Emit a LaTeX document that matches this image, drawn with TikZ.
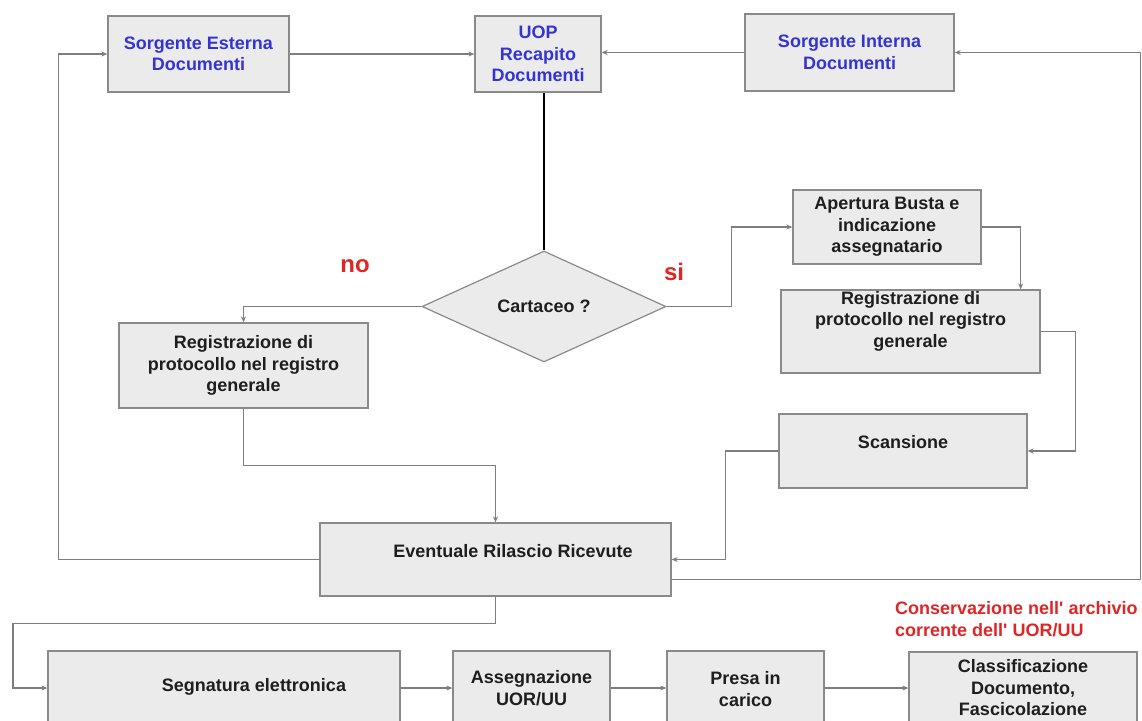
\documentclass[tikz,border=0pt]{standalone}
\usepackage{fontspec}
\setmainfont{Liberation Sans}
\newfontfamily\plainfont{Liberation Sans}
\usetikzlibrary{shapes.geometric,arrows.meta}
\definecolor{boxgray}{HTML}{EBEBEB}
\definecolor{bordergray}{HTML}{8A8A8A}
\definecolor{linegray}{HTML}{7E7E7E}
\definecolor{txtc}{HTML}{1E1E1E}
\definecolor{bluet}{RGB}{52,52,212}
\definecolor{redt}{RGB}{222,38,38}
\begin{document}
\begin{tikzpicture}[x=1pt,y=-1pt,
  fnt/.style={font=\bfseries\fontsize{18}{21.5}\selectfont},
  box/.style={draw=bordergray,fill=boxgray,line width=1.3pt,inner sep=0pt,align=center,fnt,text=txtc},
  bbox/.style={box,text=bluet},
  lbl/.style={inner sep=0pt,align=center,fnt,text=txtc},
  redlbl/.style={inner sep=0pt,text=redt,font=\bfseries\fontsize{24}{26}\selectfont},
  conn/.style={draw=linegray,line width=1.2pt},
  arr/.style={conn,-{Stealth[length=6pt,width=5pt]}},
]
\useasboundingbox (0,0) rectangle (1142,720);
\clip (0,0) rectangle (1142,720);

% top row
\node[bbox,minimum width=181pt,minimum height=76pt] (se) at (198.5,54) {Sorgente Esterna\\Documenti};
\node[bbox,minimum width=126pt,minimum height=76pt] (uop) at (538,54) {UOP\\Recapito\\Documenti};
\node[bbox,minimum width=209pt,minimum height=77pt] (si) at (849.5,52.5) {Sorgente Interna\\Documenti};

% decision
\node[diamond,draw=bordergray,fill=boxgray,line width=1.2pt,inner sep=0pt,
      minimum width=244pt,minimum height=111pt,fnt,text=txtc] (dia) at (544,306.5) {Cartaceo ?};
\node[redlbl] (no) at (355,266) {no};
\node[redlbl] (sitxt) at (674,272) {si};

% left branch
\node[box,minimum width=249pt,minimum height=85pt] (regl) at (243.5,365.5) {Registrazione di\\protocollo nel registro\\generale};

% right branch
\node[box,minimum width=188pt,minimum height=74pt] (ap) at (887,227) {Apertura Busta e\\indicazione\\assegnatario};
\node[box,minimum width=259pt,minimum height=83pt] (regr) at (910.5,331.5) {};
\node[lbl] (regrt) at (910.5,321) {Registrazione di\\protocollo nel registro\\generale};
\node[box,minimum width=248pt,minimum height=74pt] (sc) at (903,451) {};
\node[lbl] (sct) at (903,442) {Scansione};

% receipt
\node[box,minimum width=351pt,minimum height=73pt] (ev) at (495.5,559.5) {};
\node[lbl] (evt) at (513,551) {Eventuale Rilascio Ricevute};

% bottom row
\node[box,minimum width=352pt,minimum height=89pt] (seg) at (224,695.5) {};
\node[lbl] (segt) at (254,687) {Segnatura elettronica};
\node[box,minimum width=157pt,minimum height=89pt] (ass) at (531.5,695.5) {};
\node[lbl] (asst) at (531.5,688) {Assegnazione\\UOR/UU};
\node[box,minimum width=157pt,minimum height=89pt] (presa) at (745.5,695.5) {};
\node[lbl] (presat) at (745.5,689) {Presa in\\carico};
\node[box,minimum width=228pt,minimum height=88pt] (cls) at (1023,696) {};
\node[lbl] (clst) at (1023,688) {Classificazione\\Documento,\\Fascicolazione};

\node[inner sep=0pt,align=left,anchor=west,text=redt,font=\plainfont\bfseries\fontsize{18}{22}\selectfont] (cons) at (895,619) {Conservazione nell' archivio\\corrente dell' UOR/UU};

% connectors
\draw[arr] (se.east) -- (uop.west);
\draw[arr] (si.west) -- (si.west -| uop.east);
\draw[draw=black,line width=1.6pt] (dia.north |- uop.south) -- (dia.north);
\draw[arr] (dia.west) -| (regl.north);
\draw[arr] (regl.south) -- ++(0,57) -| (ev.north);
\draw[arr] (dia.east) -- ++(65,0) |- (ap.west);
\draw[arr] (ap.east) -| ([xshift=-20pt]regr.north east);
\draw[arr] (regr.east) -- ++(35,0) |- (sc.east);
\draw[arr] (sc.west) -- ++(-53,0) |- (ev.east);
\draw[arr] (ev.west) -- ++(-261,0) |- (se.west);
\draw[arr] ([yshift=17pt]ev.south east) -- ++(469,0) |- (si.east);
\draw[arr] (ev.south) -- ++(0,27) -- ++(-482.5,0) |- ([yshift=7.5pt]seg.west);
\draw[arr] ([yshift=7.5pt]seg.east) -- ([yshift=7.5pt]ass.west);
\draw[arr] ([yshift=7.5pt]ass.east) -- ([yshift=7.5pt]presa.west);
\draw[arr] ([yshift=7.5pt]presa.east) -- ([yshift=8pt]cls.west);
\end{tikzpicture}
\end{document}
